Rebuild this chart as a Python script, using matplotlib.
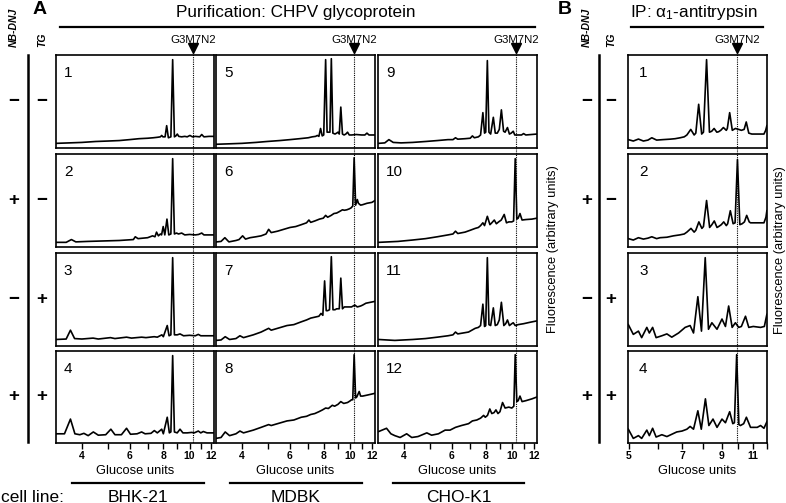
import matplotlib
matplotlib.use("Agg")
import matplotlib.pyplot as plt
from matplotlib.lines import Line2D
from matplotlib.transforms import blended_transform_factory

plt.rcParams['font.family'] = ['Liberation Sans', 'DejaVu Sans']
plt.rcParams['mathtext.fontset'] = 'custom'
plt.rcParams['mathtext.rm'] = 'Liberation Sans'
plt.rcParams['mathtext.it'] = 'Liberation Sans:italic'

# ---------------- data (x in glucose units, y in % of panel height) -------------
p1 = [(3.21,5),(3.6,5.5),(4.0,6),(4.5,7),(5.0,7.5),(5.5,8),(6.0,9),(6.5,10),(7.0,10.5),(7.34,11),(7.6,11.5),(7.8,12),(7.89,13.5),(7.97,12),(8.12,12),(8.23,24),(8.35,11),(8.53,12),(8.66,95),(8.79,12),(8.9,13),(9.01,15),(9.12,12.5),(9.35,12),(9.6,12.5),(9.8,12),(10.03,13.5),(10.25,12),(10.5,12.5),(10.9,12),(11.09,14.5),(11.3,12),(11.8,12.5),(12.31,12.5)]
p2 = [(3.21,5),(3.5,5),(3.66,8),(3.8,5.5),(4.2,6),(4.8,6.5),(5.5,7),(6.2,8),(6.3,11),(6.45,9),(7.0,10),(7.3,12),(7.45,11),(7.55,16),(7.67,12),(7.8,14),(7.88,13),(7.99,22),(8.1,13),(8.25,30),(8.38,13),(8.53,14),(8.66,95),(8.79,14),(8.95,15),(9.1,14),(9.35,15),(9.6,13),(10.0,13.5),(10.5,13),(10.8,13.5),(11.09,15),(11.3,13),(12.31,13)]
p3 = [(3.21,7),(3.5,7.5),(3.63,17),(3.76,8),(4.0,7.5),(4.4,8.5),(4.6,7.5),(5.1,9),(5.3,8),(5.85,9.5),(6.1,8.5),(6.65,9.5),(6.9,9),(7.4,10),(7.6,9.5),(7.9,12),(8.0,10),(8.27,22),(8.4,11),(8.53,12),(8.66,95),(8.79,12),(9.0,12),(9.22,13),(9.5,11),(10.0,11.5),(10.5,11),(10.77,12.5),(11.0,11),(12.31,11)]
p4 = [(3.21,10),(3.45,10),(3.63,26),(3.77,10),(3.93,9),(4.07,10.5),(4.22,8),(4.41,12),(4.6,8.5),(4.9,9),(5.12,15),(5.3,9),(5.6,9),(5.85,16),(6.05,9.5),(6.4,10),(6.65,12),(6.85,10),(7.2,10.5),(7.41,13.5),(7.6,11),(7.89,15),(8.0,10),(8.27,28),(8.42,11),(8.53,12),(8.66,95),(8.79,12),(9.0,11),(9.22,15),(9.45,11),(9.8,11),(10.18,11.5),(10.4,11),(10.77,13),(11.0,11),(11.24,12.5),(11.6,11),(12.31,11)]
p5 = [(3.21,4),(3.6,4.5),(4.0,5),(4.5,6),(4.94,7),(5.5,8),(6.0,9),(6.5,10),(7.0,11),(7.24,12),(7.45,12.5),(7.56,13.5),(7.66,12.5),(7.77,21),(7.88,13),(7.98,14),(8.11,95),(8.21,17),(8.31,17),(8.41,17),(8.51,96),(8.62,16),(8.78,15),(8.9,16),(9.0,17),(9.1,15),(9.22,44),(9.35,15),(9.48,14),(9.62,15),(9.76,17),(9.9,14),(10.1,14),(10.5,14.5),(11.0,14),(11.3,14),(11.5,16),(11.7,14),(12.31,14)]
p6 = [(3.23,5.5),(3.35,6),(3.46,10),(3.58,5.5),(3.8,7),(3.9,8),(4.02,12),(4.12,8.5),(4.28,10),(4.5,11),(4.7,12),(4.9,14),(5.01,19),(5.12,15.5),(5.4,17),(5.69,19),(6.0,21),(6.3,22),(6.6,24),(6.9,26),(7.04,29),(7.15,26.5),(7.4,28),(7.7,30),(7.95,31),(8.11,34),(8.25,32),(8.5,34),(8.7,36),(8.9,36.5),(9.1,38),(9.35,40),(9.5,39.5),(9.7,40),(9.9,41),(10.05,42),(10.2,44),(10.32,96),(10.45,45),(10.6,51),(10.7,47),(10.9,45),(11.09,45.5),(11.5,47),(12.0,48),(12.31,50)]
p7 = [(3.21,6),(3.35,6.5),(3.47,10),(3.6,7),(3.8,8),(3.93,11),(4.05,9),(4.4,12),(4.7,15),(5.01,19),(5.12,17),(5.4,19),(5.85,22),(6.2,23),(6.6,26),(6.9,28),(7.15,30),(7.4,31),(7.66,32),(7.8,35),(7.92,33),(8.04,70),(8.15,38),(8.25,38),(8.38,39),(8.51,96),(8.63,39),(8.78,39),(8.9,40),(9.1,40),(9.22,73),(9.35,40),(9.5,42),(9.76,42),(10.09,42),(10.38,44),(10.6,42),(10.9,43),(11.09,44),(11.4,46),(12.31,48)]
p8 = [(3.21,5),(3.35,6),(3.47,12),(3.6,8),(3.8,10),(3.93,13),(4.05,11),(4.4,14),(4.7,17),(5.01,20),(5.12,19),(5.4,21),(5.85,24),(6.2,25),(6.6,28),(6.9,29),(7.15,31),(7.4,32),(7.66,34),(7.9,36),(8.11,38),(8.3,37.5),(8.58,41),(8.75,40),(9.0,42),(9.22,45),(9.45,43),(9.76,44),(10.0,46),(10.09,47),(10.2,47),(10.32,96),(10.45,49),(10.55,50),(10.77,56),(10.9,51),(11.09,51),(11.5,52),(12.31,54)]
p9 = [(3.23,5),(3.4,5.5),(3.52,9),(3.65,6),(3.9,5.5),(4.3,6),(4.8,7),(5.3,8),(5.8,9),(6.05,9),(6.18,11),(6.3,9.5),(6.7,10),(7.0,10.5),(7.13,13),(7.25,11),(7.5,12),(7.64,14),(7.79,38),(7.9,16),(7.98,17),(8.09,94),(8.2,17),(8.32,15),(8.51,33),(8.65,16),(8.8,16),(8.95,20),(9.11,41),(9.28,18),(9.4,17),(9.59,22),(9.75,15),(9.9,16),(10.07,18),(10.2,14),(10.5,14),(10.8,14),(10.99,15.5),(11.2,14),(12.3,15)]
p10 = [(3.23,5),(3.8,6),(4.3,7.5),(4.8,9),(5.3,11),(5.8,13),(6.05,14),(6.18,17),(6.3,14.5),(6.7,16),(7.0,18),(7.3,20),(7.5,21),(7.64,23),(7.79,26),(7.9,23),(8.09,33),(8.27,24),(8.4,26),(8.58,29),(8.73,25),(8.9,27),(9.1,29),(9.33,35),(9.51,26),(9.7,27),(9.95,27),(10.1,28),(10.24,95),(10.38,30),(10.5,31),(10.66,36),(10.85,29),(11.2,29.5),(11.8,30),(12.3,31)]
p11 = [(3.23,7),(3.7,6),(4.3,7),(4.8,8),(5.3,9.5),(5.8,11),(6.05,12),(6.18,15),(6.3,13),(6.9,15),(7.3,19),(7.5,20),(7.64,22),(7.79,45),(7.9,21),(7.98,22),(8.09,95),(8.2,23),(8.32,22),(8.51,41),(8.65,22),(8.8,23),(8.95,28),(9.11,47),(9.3,22),(9.45,24),(9.59,28),(9.75,22),(9.95,24),(10.07,25),(10.24,22),(10.5,23),(11.0,24),(11.6,25.5),(12.3,27)]
p12 = [(3.23,12.5),(3.45,16),(3.58,10),(3.7,8),(3.87,6),(4.09,10),(4.27,6),(4.5,7),(4.85,11),(5.05,8.5),(5.35,10),(5.66,14),(5.9,14),(6.18,17),(6.5,19),(6.9,21),(7.13,24),(7.4,25),(7.64,27),(7.84,30),(7.95,28),(8.1,30),(8.26,37),(8.4,32),(8.56,33),(8.7,36),(8.85,32),(9.0,34),(9.2,44),(9.4,38),(9.7,39),(9.95,38),(10.12,40),(10.24,96),(10.38,45),(10.5,46),(10.66,51),(10.85,45),(11.2,46),(11.8,48),(12.3,50)]
b1 = [(4.98,9),(5.14,7.5),(5.31,9.6),(5.48,7.5),(5.64,8.5),(5.78,11),(5.96,8.5),(6.2,9),(6.49,9.5),(6.7,10),(6.92,11),(7.1,12),(7.22,14),(7.4,20),(7.56,14),(7.64,16),(7.78,47),(7.93,15),(8.02,17),(8.18,95),(8.33,17),(8.45,18),(8.58,21),(8.73,17),(8.83,17.5),(8.95,19),(9.1,22),(9.27,19),(9.33,21),(9.47,38),(9.63,19),(9.82,21),(10.03,20),(10.2,19),(10.38,20),(10.52,28),(10.69,16),(10.9,15),(11.28,15),(11.6,15),(11.77,15),(11.9,19),(11.99,24)]
b2 = [(4.98,9),(5.14,7.5),(5.31,10),(5.48,8.5),(5.64,9.5),(5.78,11),(5.96,9),(6.09,10),(6.36,10.5),(6.63,12),(6.9,13),(7.1,14),(7.22,16),(7.41,20),(7.56,16),(7.64,18),(7.79,27),(7.94,20),(8.02,22),(8.18,50),(8.34,21),(8.46,24),(8.59,28),(8.74,21),(8.83,22),(8.98,24),(9.12,27),(9.27,23),(9.35,25),(9.51,39),(9.68,25),(9.8,26),(9.95,94),(10.1,24),(10.25,25),(10.4,27),(10.55,34),(10.72,27),(10.81,26),(11.3,26),(11.77,26),(11.92,32),(11.99,39)]
b3 = [(4.98,23),(5.14,12.5),(5.31,16),(5.42,9),(5.6,20),(5.69,14),(5.81,20),(5.94,9),(6.16,11),(6.36,13),(6.56,9.5),(6.85,14),(7.14,20),(7.37,22),(7.53,14),(7.74,53),(7.92,16),(8.11,95),(8.28,18),(8.46,25),(8.74,18),(9.02,29),(9.22,21),(9.41,43),(9.62,20),(9.82,25),(10.03,20),(10.2,21),(10.47,32),(10.69,20),(11.0,21),(11.52,20),(11.8,21),(11.99,34)]
b4 = [(4.98,15),(5.14,5),(5.31,8),(5.42,5),(5.6,14),(5.69,8),(5.81,16),(5.94,6.5),(6.16,9),(6.36,7),(6.77,12),(7.0,13),(7.22,15),(7.37,18),(7.53,15),(7.74,35),(7.91,15),(8.12,48),(8.3,19),(8.52,26),(8.74,17),(9.02,26),(9.22,22),(9.47,34),(9.66,21),(9.76,22),(9.9,96),(10.04,20),(10.14,19),(10.35,21),(10.53,28),(10.81,17),(11.28,17),(11.52,19),(11.77,16),(11.99,23)]

traces_A = [[p1, p2, p3, p4], [p5, p6, p7, p8], [p9, p10, p11, p12]]
traces_B = [b1, b2, b3, b4]
numbers_A = [["1", "2", "3", "4"], ["5", "6", "7", "8"], ["9", "10", "11", "12"]]
numbers_B = ["1", "2", "3", "4"]
nbdnj_signs = ["\u2212", "+", "\u2212", "+"]
tg_signs = ["\u2212", "\u2212", "+", "+"]
cell_lines = ["BHK-21", "MDBK", "CHO-K1"]
ticks_A = [4, 5, 6, 7, 8, 9, 10, 11, 12]
ticklabels_A = ["4", "", "6", "", "8", "", "10", "", "12"]
ticks_B = [5, 6, 7, 8, 9, 10, 11, 12]
ticklabels_B = ["5", "", "7", "", "9", "", "11", ""]
g3m7n2_A = 10.32
g3m7n2_B = 9.92

# ---------------- layout -------------------------------------------------------
W, H = 786, 503
fig = plt.figure(figsize=(W / 100, H / 100), dpi=100)

def rect(x0, x1, yt, yb):
    return [x0 / W, 1 - yb / H, (x1 - x0) / W, (yb - yt) / H]

def fx(x):
    return x / W

def fy(y):
    return 1 - y / H

colsA = [(56, 214), (216, 375), (378, 537)]
colB = (628, 767)
rows = [(55, 148), (154, 247), (253, 346), (351, 443)]

def style_ax(ax, xlim, ticks, labels, bottom):
    ax.set_xscale('log')
    ax.set_xlim(*xlim)
    ax.set_ylim(0, 100)
    ax.set_yticks([])
    ax.minorticks_off()
    for s in ax.spines.values():
        s.set_linewidth(1.2)
    if bottom:
        ax.set_xticks(ticks)
        ax.set_xticklabels(labels, fontsize=7.5, fontweight='bold')
        ax.tick_params(axis='x', direction='out', length=4, width=1, pad=2)
    else:
        ax.set_xticks([])
    ax.minorticks_off()

def draw_trace(ax, tr):
    ax.plot([p[0] for p in tr], [p[1] for p in tr], color='black', lw=1.2,
            solid_joinstyle='round')

bottom_axes_A = []
top_axes_A = []
for c, (x0, x1) in enumerate(colsA):
    for r, (yt, yb) in enumerate(rows):
        ax = fig.add_axes(rect(x0, x1, yt, yb))
        draw_trace(ax, traces_A[c][r])
        style_ax(ax, (3.21, 12.31), ticks_A, ticklabels_A, r == 3)
        ax.text(0.05, 0.88, numbers_A[c][r], transform=ax.transAxes,
                ha='left', va='top', fontsize=11)
        if r == 0:
            top_axes_A.append(ax)
        if r == 3:
            bottom_axes_A.append(ax)

axes_B = []
for r, (yt, yb) in enumerate(rows):
    ax = fig.add_axes(rect(colB[0], colB[1], yt, yb))
    draw_trace(ax, traces_B[r])
    style_ax(ax, (4.97, 12.0), ticks_B, ticklabels_B, r == 3)
    ax.text(0.08, 0.88, numbers_B[r], transform=ax.transAxes,
            ha='left', va='top', fontsize=11)
    axes_B.append(ax)

# dotted G3M7N2 lines, triangles and labels
def marker_line(ax, xg):
    trans = blended_transform_factory(ax.transData, fig.transFigure)
    fig.add_artist(Line2D([xg, xg], [fy(50), fy(443)], transform=trans,
                          color='black', lw=0.8, ls=(0, (1, 1))))
    fig.add_artist(Line2D([xg], [fy(48)], transform=trans, marker='v',
                          markersize=7.5, color='black', lw=0))
    fig.text(xg, fy(40), "G3M7N2", transform=trans, ha='center', va='center',
             fontsize=8.2)

for ax in top_axes_A:
    marker_line(ax, g3m7n2_A)
marker_line(axes_B[0], g3m7n2_B)

# headers
fig.text(fx(40), fy(9), "A", fontsize=14, fontweight='heavy', ha='center', va='center')
fig.text(fx(565), fy(9), "B", fontsize=14, fontweight='heavy', ha='center', va='center')
fig.text(fx(296), fy(13), "Purification: CHPV glycoprotein", fontsize=12.3,
         ha='center', va='center')
fig.add_artist(Line2D([fx(60), fx(535)], [fy(27), fy(27)], color='black', lw=1.6))
fig.text(fx(694), fy(13), r"IP: α$_1$-antitrypsin", fontsize=12.3,
         ha='center', va='center')
fig.add_artist(Line2D([fx(631), fx(763)], [fy(27), fy(27)], color='black', lw=1.6))

# row condition labels
def cond_labels(xn, xl, xt):
    fig.text(fx(xn), fy(27), "NB-DNJ", rotation=90, fontsize=7.5,
             fontweight='bold', fontstyle='italic', ha='center', va='center')
    fig.text(fx(xt), fy(40), "TG", rotation=90, fontsize=7.5,
             fontweight='bold', fontstyle='italic', ha='center', va='center')
    fig.add_artist(Line2D([fx(xl), fx(xl)], [fy(55), fy(442)], color='black', lw=1.8))
    for r, (yt, yb) in enumerate(rows):
        yc = (yt + yb) / 2
        fig.text(fx(xn), fy(yc), nbdnj_signs[r], fontsize=13.5, fontweight='bold',
                 ha='center', va='center')
        fig.text(fx(xt), fy(yc), tg_signs[r], fontsize=13.5, fontweight='bold',
                 ha='center', va='center')

cond_labels(14, 28, 42)
cond_labels(587, 599, 611)

# axis labels
for (x0, x1) in colsA:
    fig.text(fx((x0 + x1) / 2), fy(471), "Glucose units", fontsize=9.3,
             ha='center', va='center')
fig.text(fx(697), fy(471), "Glucose units", fontsize=9.3,
         ha='center', va='center')
fig.text(fx(553), fy(249), "Fluorescence (arbitrary units)", rotation=90,
         fontsize=9.3, ha='center', va='center')
fig.text(fx(780), fy(250), "Fluorescence (arbitrary units)", rotation=90,
         fontsize=9.3, ha='center', va='center')

# cell lines
fig.text(fx(1), fy(497), "cell line:", fontsize=12.5, ha='left', va='center')
bars = [(72, 204), (230, 362), (393, 524)]
for name, (a, b) in zip(cell_lines, bars):
    fig.add_artist(Line2D([fx(a), fx(b)], [fy(483), fy(483)], color='black', lw=1.6))
    fig.text(fx((a + b) / 2), fy(497), name, fontsize=12.5, ha='center', va='center')

fig.savefig("out.png", dpi=100)
